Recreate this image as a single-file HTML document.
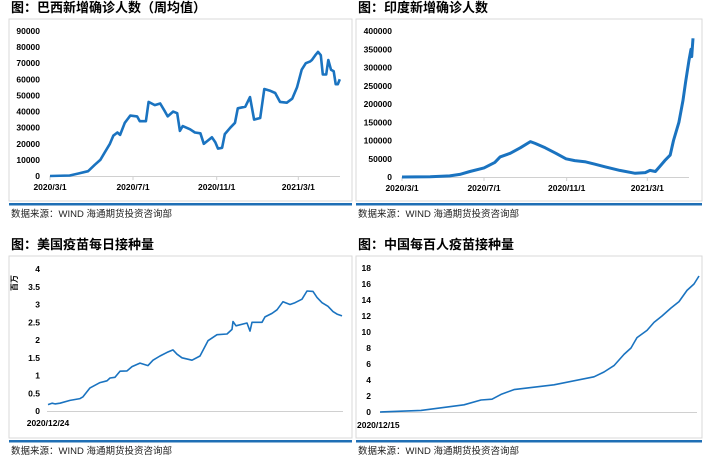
<!DOCTYPE html>
<html><head><meta charset="utf-8"><style>
body{margin:0;background:#fff;width:707px;height:461px;overflow:hidden;font-family:"Liberation Sans","Noto Sans CJK SC",sans-serif}
svg{position:absolute;left:0;top:0}
</style></head><body>
<svg id="s" width="707" height="461"></svg>
<script>
const brDays=[0,29,41,56,66,74,81,88,93,99,103,110,118,128,132,141,145,154,162,169,173,181,187,191,195,206,213,221,226,232,238,243,247,253,257,265,272,276,287,294,300,309,315,323,331,338,348,356,363,370,376,382,385,390,394,398,401,406,409,413,417,420,423,426];
const brVals=[0,300,1500,3000,7000,10000,15000,20000,25000,27000,25500,33000,37500,37000,34000,34000,46000,44000,45000,40000,37000,40000,39000,28000,31000,29000,27000,26500,20000,22000,24000,21000,17000,17500,26000,30000,33000,42000,43000,49000,35000,36000,54000,53000,51500,46000,45500,48000,55000,66000,70000,71000,72000,75000,77000,75000,63000,63000,72000,66000,65000,57000,57000,60000];
const inDays=[0,42,71,86,101,122,138,146,161,176,191,198,213,229,244,257,272,287,302,324,347,362,369,377,384,391,399,404,412,418,422,427,430,431,433];
const inVals=[0,500,3000,7000,15000,25000,40000,55000,65000,80000,97000,92000,80000,65000,50000,45000,42000,35000,28000,18000,10000,12000,18000,15000,30000,45000,60000,100000,150000,210000,260000,320000,350000,330000,380000];
const usDays=[0,4,7,12,22,32,35,42,52,59,62,67,72,79,84,92,100,105,112,119,125,129,134,144,152,160,169,179,184,185,188,199,202,204,214,217,224,229,235,242,247,254,259,265,269,274,280,285,289,294];
const usVals=[0.18,0.22,0.2,0.22,0.3,0.35,0.4,0.65,0.8,0.85,0.93,0.95,1.12,1.13,1.25,1.35,1.28,1.43,1.55,1.65,1.72,1.6,1.5,1.43,1.55,1.98,2.15,2.17,2.3,2.52,2.4,2.48,2.25,2.5,2.5,2.65,2.75,2.85,3.08,3.0,3.05,3.15,3.38,3.37,3.2,3.05,2.95,2.8,2.73,2.68];
const cnDays=[0,41,84,101,112,121,134,174,214,224,234,244,251,257,267,274,282,291,299,307,314,319];
const cnVals=[0,0.2,0.9,1.5,1.6,2.2,2.8,3.4,4.4,5.0,5.8,7.2,8.0,9.3,10.2,11.2,12.0,13.0,13.8,15.2,16.0,17.0];
const brTicks=["0","10000","20000","30000","40000","50000","60000","70000","80000","90000"];
const inTicks=["0","50000","100000","150000","200000","250000","300000","350000","400000"];
const usTicks=["0","0.5","1","1.5","2","2.5","3","3.5","4"];
const cnTicks=["0","2","4","6","8","10","12","14","16","18"];
const dateLabels=["2020/3/1","2020/7/1","2020/11/1","2021/3/1"];

const S=document.getElementById('s');const NS='http://www.w3.org/2000/svg';
function mk(t,a,txt){const e=document.createElementNS(NS,t);for(const k in a)e.setAttribute(k,a[k]);if(txt!==undefined)e.textContent=txt;S.appendChild(e);return e;}

function panel(x0,y0,w,title,name){
  let t=mk('text',{x:x0+2,y:y0+11,'font-size':13,'font-weight':'bold',fill:'#000'},title);
  
  let r=mk('rect',{x:x0,y:y0+18,width:w,height:182,fill:'none',stroke:'#d9d9d9','stroke-width':1});
  
  let b=mk('rect',{x:x0,y:y0+202,width:w,height:2.5,fill:'#1f6fb5'});
  
  let s=mk('text',{x:x0+2,y:y0+216,'font-size':9.5,fill:'#222'},'数据来源：WIND   海通期货投资咨询部');
  
}
panel(9,1,343,'图：巴西新增确诊人数（周均值）','brazil');
panel(356,1,346,'图：印度新增确诊人数','india');
panel(9,238,343,'图：美国疫苗每日接种量','us');
panel(356,238,346,'图：中国每百人疫苗接种量','china');

function chart(o){
  const sx=d=>o.x0+(d-o.d0)/(o.d1-o.d0)*(o.x1-o.x0);
  const sy=v=>o.y0-(v/o.vmax)*(o.y0-o.y1);
  let ax=mk('line',{x1:o.ax0,y1:o.y0+0.5,x2:o.ax1,y2:o.y0+0.5,stroke:'#d0d0d0','stroke-width':1});
  
  o.ticks.forEach((t,i)=>{const v=o.vmax*i/(o.ticks.length-1);
    let e=mk('text',{x:o.lx,y:sy(v)+3,'font-size':o.fs,'font-weight':'bold','text-anchor':'end',fill:'#000'},t);
    });
  (o.xticks||[]).forEach(([d,l])=>{const X=sx(d);
    let tk=mk('line',{x1:X,y1:o.y0,x2:X,y2:o.y0+4,stroke:'#d0d0d0'});
    
    let e=mk('text',{x:X,y:o.y0+14,'font-size':8.5,'font-weight':'bold','text-anchor':'middle',fill:'#000'},l);
    });
  const pts=o.days.map((d,i)=>sx(d).toFixed(1)+','+sy(o.vals[i]).toFixed(1)).join(' ');
  let p=mk('polyline',{points:pts,fill:'none',stroke:'#1a73c0','stroke-width':o.sw,'stroke-linejoin':'round'});
  
}
chart({name:'brazil',x0:50,x1:133,d0:0,d1:122,y0:176,y1:31,vmax:90000,ticks:brTicks,lx:40,fs:8.5,ax0:50,ax1:340,days:brDays,vals:brVals,sw:2.6,
  xticks:[[0,dateLabels[0]],[122,dateLabels[1]],[245,dateLabels[2]],[365,dateLabels[3]]]});
chart({name:'india',x0:402,x1:484,d0:0,d1:122,y0:177,y1:31,vmax:400000,ticks:inTicks,lx:392,fs:8.5,ax0:402,ax1:689,days:inDays,vals:inVals,sw:3,
  xticks:[[0,dateLabels[0]],[122,dateLabels[1]],[245,dateLabels[2]],[365,dateLabels[3]]]});
chart({name:'us',x0:48,x1:342,d0:0,d1:294,y0:411,y1:269,vmax:4,ticks:usTicks,lx:40,fs:8.5,ax0:47,ax1:343,days:usDays,vals:usVals,sw:1.6});
chart({name:'china',x0:380,x1:699,d0:0,d1:319,y0:412,y1:268,vmax:18,ticks:cnTicks,lx:371,fs:8.5,ax0:380,ax1:697,days:cnDays,vals:cnVals,sw:1.6});
let l1=mk('text',{x:48,y:426,'font-size':8.5,'font-weight':'bold','text-anchor':'middle'},'2020/12/24');

let l2=mk('text',{x:357,y:428,'font-size':8.5,'font-weight':'bold'},'2020/12/15');

let u=mk('text',{x:0,y:0,'font-size':8,'font-weight':'bold',transform:'translate(17,291) rotate(-90)'},'百万');

</script>
</body></html>
